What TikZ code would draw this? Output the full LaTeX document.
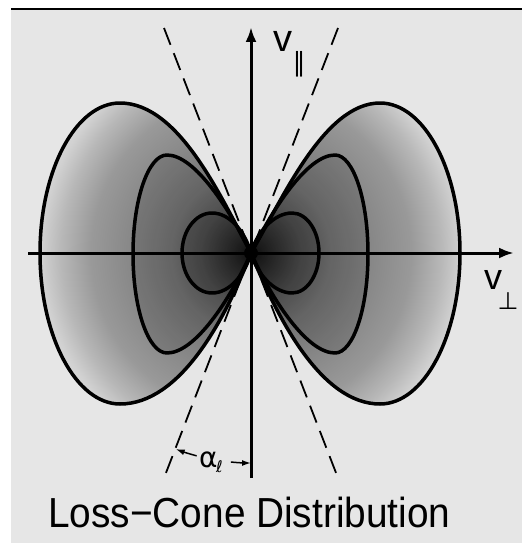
\documentclass[tikz,border=0pt]{standalone}
\usepackage{fontspec}
\usepackage{graphicx}
\setmainfont{Liberation Sans}
\newfontfamily\dvs{DejaVu Sans}
\usetikzlibrary{arrows.meta}
\definecolor{bg}{RGB}{230,230,230}
\pgfdeclareradialshading{lcshade}{\pgfpoint{0bp}{0bp}}{color(0bp)=(black!92); color(2.5bp)=(black!78); color(5bp)=(black!65); color(8bp)=(black!55); color(12bp)=(black!47); color(16bp)=(black!40); color(19bp)=(black!28); color(21bp)=(black!18); color(24bp)=(black!10); color(50bp)=(black!10)}
\def\outerL{(251,253) .. controls (222,200) and (180,103) .. (120,103) .. controls (76,103) and (40,170) .. (40,253) .. controls (40,336) and (76,404) .. (120,404) .. controls (180,404) and (225,320) .. (251,253) -- cycle}
\def\outerR{(251,253) .. controls (282,200) and (324,103) .. (380,103) .. controls (424,103) and (460,170) .. (460,253) .. controls (460,336) and (424,404) .. (380,404) .. controls (322,404) and (278,320) .. (251,253) -- cycle}
\def\midL{(251,253) .. controls (230,210) and (195,155) .. (167,155) .. controls (148.2,155) and (133,199.4) .. (133,254) .. controls (133,308.6) and (148.2,353) .. (167,353) .. controls (195,353) and (230,300) .. (251,253) -- cycle}
\def\midR{(251,253) .. controls (272,210) and (307,155) .. (335,155) .. controls (353.2,155) and (368,199.4) .. (368,254) .. controls (368,308.6) and (353.2,353) .. (335,353) .. controls (307,353) and (272,300) .. (251,253) -- cycle}
\def\innL{(251,253) .. controls (245,232) and (230,213) .. (212,213) .. controls (195.4,213) and (182,230.9) .. (182,253) .. controls (182,275.1) and (195.4,293) .. (212,293) .. controls (230,293) and (245,274) .. (251,253) -- cycle}
\def\innR{(251,253) .. controls (257,232) and (274,213) .. (292,213) .. controls (306.9,213) and (319,230.9) .. (319,253) .. controls (319,275.1) and (306.9,293) .. (292,293) .. controls (274,293) and (257,274) .. (251,253) -- cycle}
\begin{document}
\begin{tikzpicture}[x=1pt,y=-1pt,
  lobe/.style={line width=3.5pt, line join=round},
  axisline/.style={line width=3pt, -{Latex[length=15pt,width=11pt]}},
  cone/.style={line width=1.8pt, dash pattern=on 18pt off 9pt},
  dimarrow/.style={line width=1.5pt, -{Latex[length=9pt,width=6pt]}},
  lbl/.style={inner sep=0pt, anchor=base west}]
\useasboundingbox (0,0) rectangle (522,543);
\fill[white] (0,0) rectangle (522,543);
\fill[bg] (11,10) rectangle (522,543);
\draw[line width=1.5pt] (11,9) -- (522,9);
\coordinate (O) at (251,253);
% shaded lobes
\begin{scope}
  \clip \outerL \outerR;
  \shade[shading=lcshade] (O) circle[radius=250];
\end{scope}
\fill[black, opacity=0.12] \midL;
\fill[black, opacity=0.12] \midR;
\fill[black, opacity=0.15] \innL;
\fill[black, opacity=0.15] \innR;
\fill[black] (O) circle[radius=7];
\draw[lobe] \outerL;
\draw[lobe] \outerR;
\draw[lobe] \midL;
\draw[lobe] \midR;
\draw[lobe] \innL;
\draw[lobe] \innR;
% loss cone lines
\coordinate (cTL) at (164,28);
\coordinate (cBR) at (338,478);
\coordinate (cTR) at (338,28);
\coordinate (cBL) at (164,478);
\draw[cone] (cTL) -- (cBR);
\draw[cone] (cTR) -- (cBL);
% axes
\coordinate (vb) at (251,478);
\coordinate (vt) at (251,27);
\coordinate (hl) at (28,253);
\coordinate (hr) at (514,253);
\draw[axisline] (vb) -- (vt);
\draw[axisline] (hl) -- (hr);
% labels
\node[lbl, font=\fontsize{38}{40}\selectfont] (vpar) at (273,52) {v};
\node[inner sep=0pt, font=\dvs\fontsize{26}{28}\selectfont] (parsub) at (299,64) {∥};
\node[lbl, font=\fontsize{36}{40}\selectfont] (vperp) at (484,289) {v};
\node[inner sep=0pt, font=\dvs\fontsize{24}{26}\selectfont] (perpsub) at (508,301) {⊥};
\node[lbl, font=\dvs\fontsize{28}{30}\selectfont] (alpha) at (199,467) {α};
\node[lbl, font=\dvs\fontsize{16}{18}\selectfont] (alphasub) at (216,472) {ℓ};
\draw[dimarrow] ([shift={(105:210)}]O) arc[start angle=105, end angle=111, radius=210];
\draw[dimarrow] ([shift={(95.5:210)}]O) arc[start angle=95.5, end angle=90, radius=210];
% title
\node[lbl, font=\fontsize{42}{48}\selectfont] (title) at (48,527) {\scalebox{0.924}[1]{Loss−Cone Distribution}};
\end{tikzpicture}
\end{document}
